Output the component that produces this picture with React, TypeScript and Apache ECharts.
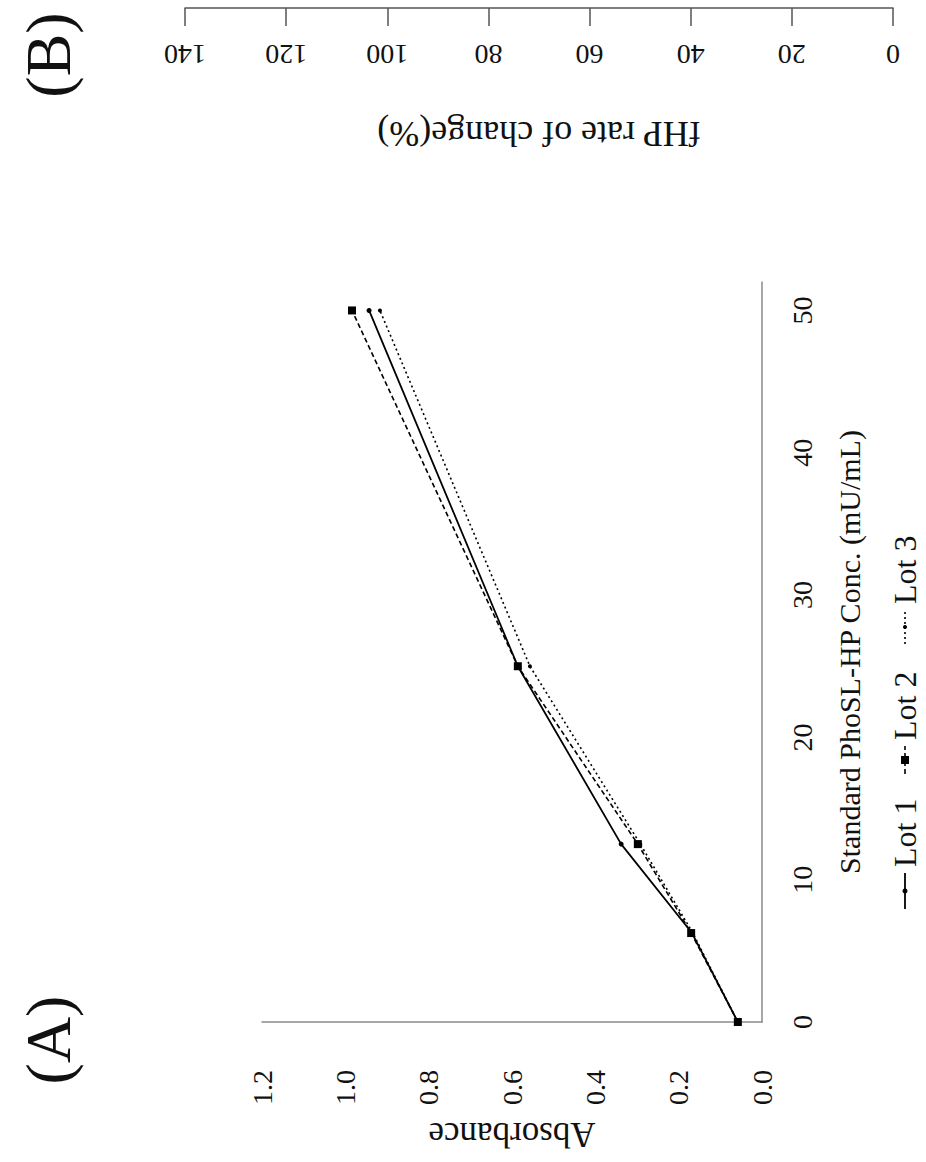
import React, { useEffect, useRef } from "react";
import * as echarts from "echarts";

const conc = [0, 6.25, 12.5, 25, 50];
const lot1 = [0.058, 0.168, 0.338, 0.586, 0.943];
const lot2 = [0.058, 0.17, 0.298, 0.586, 0.984];
const lot3 = [0.058, 0.166, 0.292, 0.557, 0.917];
const absTicks = [0, 0.2, 0.4, 0.6, 0.8, 1.0, 1.2];
const fhpTicks = [0, 20, 40, 60, 80, 100, 120, 140];
const legendNames = ["Lot 1", "Lot 2", "Lot 3"];

const FONT = "Liberation Serif";

export default function App() {
  const ref = useRef<HTMLDivElement>(null);
  useEffect(() => {
    const chart = echarts.init(ref.current!, null, { renderer: "svg" });
    const pts = (arr: number[]) => arr.map((v, i) => [v, conc[i]]);
    const lineStyles = [
      { type: "solid", width: 1.8 },
      { type: [5, 3], width: 1.6 },
      { type: [2, 3], width: 1.6 },
    ];
    const symbols = [
      { symbol: "circle", size: 5 },
      { symbol: "rect", size: 8 },
      { symbol: "circle", size: 4 },
    ];
    const data = [lot1, lot2, lot3];

    // legend drawn rotated (reads bottom to top)
    const legendChildren: any[] = [];
    const starts = [0, 135, 265];
    const lens = [36, 28, 34];
    legendNames.forEach((n, i) => {
      const s = starts[i];
      const L = lens[i];
      legendChildren.push({
        type: "line",
        shape: { x1: s, y1: 0, x2: s + L, y2: 0 },
        style: {
          stroke: "#000",
          lineWidth: lineStyles[i].width,
          lineDash: i === 0 ? null : (lineStyles[i].type as number[]),
        },
      });
      if (symbols[i].symbol === "rect") {
        legendChildren.push({
          type: "rect",
          shape: { x: s + L / 2 - 4, y: -4, width: 8, height: 8 },
          style: { fill: "#000" },
        });
      } else {
        legendChildren.push({
          type: "circle",
          shape: { cx: s + L / 2, cy: 0, r: symbols[i].size / 2 },
          style: { fill: "#000" },
        });
      }
      legendChildren.push({
        type: "text",
        x: s + L + 6,
        y: 0,
        style: {
          text: n,
          font: `32px "${FONT}"`,
          fill: "#111",
          verticalAlign: "middle",
        },
      });
    });

    chart.setOption({
      animation: false,
      backgroundColor: "#fff",
      textStyle: { fontFamily: FONT },
      grid: [
        { left: 262, right: 164, top: 282, bottom: 140, containLabel: false, outerBoundsMode: "none" },
        { left: 185, right: 33, top: 0, height: 8, containLabel: false, outerBoundsMode: "none" },
      ],
      xAxis: [
        {
          type: "value",
          gridIndex: 0,
          position: "bottom",
          inverse: true,
          min: 0,
          max: 1.2,
          interval: 0.2,
          splitLine: { show: false },
          axisTick: { show: false },
          axisLine: { lineStyle: { color: "#8a8a8a", width: 1.5 } },
          axisLabel: {
            rotate: 90,
            margin: 48,
            fontSize: 28,
            color: "#111",
            fontFamily: FONT,
            formatter: (v: number) => v.toFixed(1),
          },
        },
        {
          type: "value",
          gridIndex: 1,
          position: "bottom",
          inverse: true,
          min: 0,
          max: 140,
          interval: 20,
          splitLine: { show: false },
          axisTick: { show: true, length: 18, lineStyle: { color: "#555", width: 1.5 } },
          axisLine: { lineStyle: { color: "#555", width: 1.5 } },
          axisLabel: {
            rotate: 180,
            margin: 32,
            fontSize: 28,
            color: "#111",
            fontFamily: FONT,
          },
          name: "fHP rate of change(%)",
          nameLocation: "middle",
          nameRotate: 180,
          nameGap: 108,
          nameTextStyle: { fontSize: 36, color: "#111", fontFamily: FONT },
        },
      ],
      yAxis: [
        {
          type: "value",
          gridIndex: 0,
          position: "right",
          min: 0,
          max: 52,
          interval: 10,
          splitLine: { show: false },
          axisTick: { show: false },
          axisLine: { lineStyle: { color: "#8a8a8a", width: 1.5 } },
          axisLabel: {
            rotate: 90,
            margin: 26,
            fontSize: 28,
            color: "#111",
            fontFamily: FONT,
            showMaxLabel: false,
          },
          name: "Standard PhoSL-HP Conc. (mU/mL)",
          nameLocation: "middle",
          nameRotate: 90,
          nameGap: 72,
          nameTextStyle: { fontSize: 30, color: "#111", fontFamily: FONT },
        },
        {
          type: "value",
          gridIndex: 1,
          show: false,
          min: 0,
          max: 1,
        },
      ],
      series: data.map((d, i) => ({
        type: "line",
        name: legendNames[i],
        xAxisIndex: 0,
        yAxisIndex: 0,
        data: pts(d),
        symbol: symbols[i].symbol,
        symbolSize: symbols[i].size,
        showSymbol: true,
        itemStyle: { color: "#000" },
        lineStyle: { color: "#000", ...lineStyles[i] },
        z: 3 - i,
      })),
      graphic: [
        {
          type: "text",
          x: 512,
          y: 1134,
          rotation: Math.PI,
          style: {
            text: "Absorbance",
            font: `35px "${FONT}"`,
            fill: "#111",
            align: "center",
            verticalAlign: "middle",
          },
        },
        {
          type: "text",
          x: 48,
          y: 1040,
          rotation: Math.PI / 2,
          style: {
            text: "(A)",
            font: `64px "${FONT}"`,
            fill: "#111",
            align: "center",
            verticalAlign: "middle",
          },
        },
        {
          type: "text",
          x: 48,
          y: 55,
          rotation: Math.PI / 2,
          style: {
            text: "(B)",
            font: `64px "${FONT}"`,
            fill: "#111",
            align: "center",
            verticalAlign: "middle",
          },
        },
        {
          type: "group",
          x: 905,
          y: 909,
          rotation: Math.PI / 2,
          children: legendChildren,
        },
      ],
    });
    return () => chart.dispose();
  }, []);
  return <div ref={ref} style={{ width: 926, height: 1162, position: "absolute", left: 0, top: 0 }} />;
}
